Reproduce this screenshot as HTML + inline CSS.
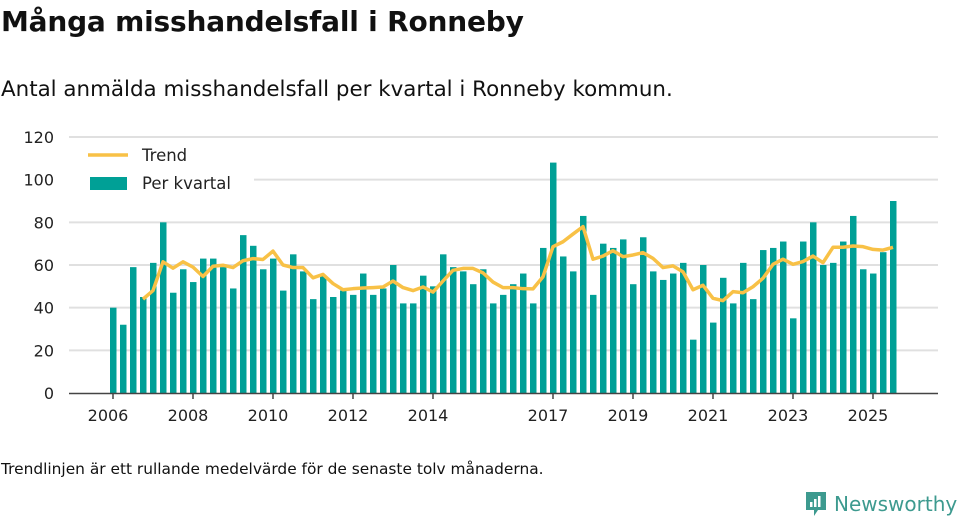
<!DOCTYPE html>
<html><head><meta charset="utf-8"><style>
body{margin:0;background:#fff;font-family:"DejaVu Sans","Liberation Sans",sans-serif;color:#111}
#wrap{position:relative;width:960px;height:520px;overflow:hidden}
</style></head><body>
<div id="wrap">
<div style="position:absolute;left:1px;top:5px;font-size:28px;font-weight:bold;letter-spacing:-0.2px">Många misshandelsfall i Ronneby</div>
<div style="position:absolute;left:1px;top:77px;font-size:21.4px">Antal anmälda misshandelsfall per kvartal i Ronneby kommun.</div>
<svg id="chart" width="960" height="520" style="position:absolute;left:0;top:0"></svg>
<div style="position:absolute;left:1px;top:460px;font-size:15.4px">Trendlinjen är ett rullande medelvärde för de senaste tolv månaderna.</div>
<div style="position:absolute;left:804px;top:489px;height:30px;display:flex;align-items:center">
<svg width="24" height="28" viewBox="0 0 24 28"><path d="M2 2h20v18h-8l-4 6v-6H2z" fill="#3d9a8f"/><rect x="6" y="12" width="2.5" height="5" fill="#fff"/><rect x="10" y="9" width="2.5" height="8" fill="#fff"/><rect x="14" y="6" width="2.5" height="11" fill="#fff"/></svg>
<span style="margin-left:6px;font-size:20px;color:#3d9a8f">Newsworthy</span></div>
</div>
<script>
const yTicks=[0,20,40,60,80,100,120];
const yearLabels=["2006","2008","2010","2012","2014","2017","2019","2021","2023","2025"];
const yearIndex=[0,8,16,24,32,44,52,60,68,76];
const perKvartal=[40,32,59,45,61,80,47,58,52,63,63,59,49,74,69,58,63,48,65,57,44,55,45,48,46,56,46,49,60,42,42,55,50,65,59,57,51,58,42,46,51,56,42,68,108,64,57,83,46,70,68,72,51,73,57,53,56,61,25,60,33,54,42,61,44,67,68,71,35,71,80,60,61,71,83,58,56,66,90];
const trendStart=3;
const trend=[44,48,61.5,58.5,61.5,59,54.6,59.4,59.9,58.8,62,63,62.6,66.5,60,58.8,58.8,54,55.6,51.3,48.4,48.9,49.2,49.4,49.7,52.5,49.4,48,49.7,47.3,52.5,57.5,58.4,58.4,56.3,52,49.4,49.4,48.9,48.8,54.5,68.6,70.9,74.5,78,62.7,64.2,66.7,63.9,64.7,65.8,63.1,58.8,59.6,56.8,48.4,50.5,44.4,43.3,47.5,47,49.8,53.8,60.3,62.7,60.3,61.6,64.2,61.1,68.3,68.3,68.9,68.6,67.3,67,68.3];
const NS="http://www.w3.org/2000/svg";
const svg=document.getElementById('chart');
const x=i=>113+10*i;
const y=v=>393-v*(256/120);
function mk(t,a){const e=document.createElementNS(NS,t);for(const k in a)e.setAttribute(k,a[k]);svg.appendChild(e);return e;}
yTicks.forEach(v=>{
  if(v>0){const g=mk('line',{x1:69,x2:938,y1:y(v),y2:y(v),stroke:'#e0e0e0','stroke-width':2});
  
  }
  const t=mk('text',{x:54,y:y(v)+6,'text-anchor':'end','font-size':16,fill:'#222','font-family':'DejaVu Sans, Liberation Sans, sans-serif'});
  t.textContent=v;
  
  
});
perKvartal.forEach((v,i)=>{
  const r=mk('rect',{x:x(i)-3,y:y(v),width:6.5,height:393-y(v),fill:'#00a096'});
  
  
});
const ax=mk('line',{x1:69,x2:938,y1:393.5,y2:393.5,stroke:'#444','stroke-width':1.5});


yearIndex.forEach((idx,k)=>{
  const tk=mk('line',{x1:x(idx),x2:x(idx),y1:393,y2:399,stroke:'#444','stroke-width':1.5});
  
  
  const t=mk('text',{x:x(idx)-5,y:421,'text-anchor':'middle','font-size':16,fill:'#222','font-family':'DejaVu Sans, Liberation Sans, sans-serif'});
  t.textContent=yearLabels[k];
  
  
});
const pts=trend.map((v,j)=>x(j+trendStart)+','+y(v)).join(' ');
const pl=mk('polyline',{points:pts,fill:'none',stroke:'#f8c146','stroke-width':3.5,'stroke-linejoin':'round'});


const lb=mk('rect',{x:64,y:140,width:190,height:58,fill:'#fff'});


const l1=mk('line',{x1:88,x2:128,y1:155,y2:155,stroke:'#f8c146','stroke-width':3.5});


const t1=mk('text',{x:142,y:161,'font-size':16.5,fill:'#222','font-family':'DejaVu Sans, Liberation Sans, sans-serif'});
t1.textContent='Trend';


const l2=mk('rect',{x:90,y:177,width:37,height:13,fill:'#00a096'});


const t2=mk('text',{x:142,y:189,'font-size':16.5,fill:'#222','font-family':'DejaVu Sans, Liberation Sans, sans-serif'});
t2.textContent='Per kvartal';


</script>
</body></html>
